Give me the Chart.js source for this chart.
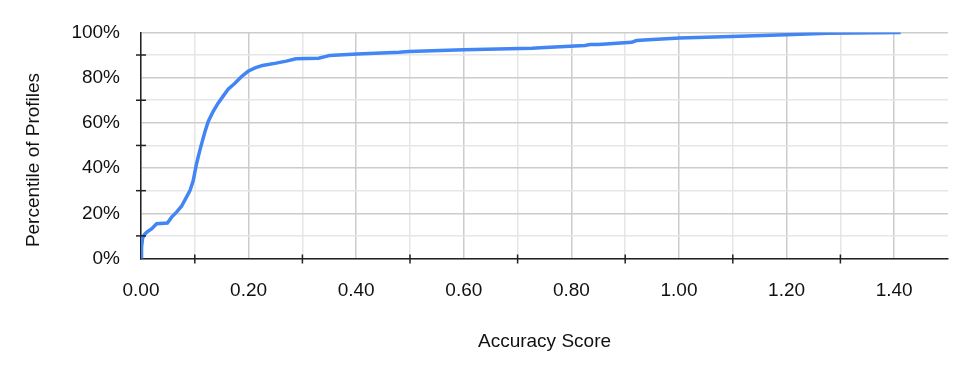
<!DOCTYPE html>
<html>
<head>
<meta charset="utf-8">
<script src="https://cdn.jsdelivr.net/npm/chart.js@4.4.1/dist/chart.umd.min.js"></script>
<style>
  body { margin: 0; background: #fff; }
  #wrap { width: 969px; height: 372px; position: relative; }
</style>
</head>
<body>
<div id="wrap"><canvas id="myChart"></canvas></div>
<script>
// accuracy score (x) vs cumulative percentile of profiles (y)
const scores = [0, 0.001, 0.003, 0.006, 0.011, 0.02, 0.029, 0.049, 0.057, 0.066, 0.075, 0.081,
  0.091, 0.097, 0.103, 0.109, 0.114, 0.119, 0.125, 0.134, 0.143, 0.152, 0.162, 0.174, 0.186,
  0.199, 0.212, 0.226, 0.251, 0.27, 0.288, 0.33, 0.344, 0.35, 0.402, 0.48, 0.498, 0.6, 0.727,
  0.751, 0.825, 0.835, 0.85, 0.912, 0.921, 0.943, 1.001, 1.097, 1.199, 1.276, 1.412];
const percentiles = [0, 5, 9, 10.5, 11.7, 13.2, 15.4, 15.7, 18.3, 20.5, 23, 25.6,
  30, 34.4, 41.7, 47.5, 51.9, 56.2, 60.6, 65, 68.6, 71.6, 74.9, 77.4, 80.3,
  82.8, 84.3, 85.4, 86.4, 87.3, 88.3, 88.6, 89.4, 89.8, 90.5, 91.2, 91.5, 92.3, 93,
  93.3, 94.2, 94.6, 94.7, 95.6, 96.4, 96.8, 97.5, 98.2, 99, 99.6, 100];

const xTickLabels = ['0.00', '0.20', '0.40', '0.60', '0.80', '1.00', '1.20', '1.40'];
const yTickLabels = ['0%', '20%', '40%', '60%', '80%', '100%'];

const FONT = 'Liberation Sans, Arial, sans-serif';
const TEXT = '#111';
const SIZE = 19;

const points = scores.map((s, i) => ({ x: s, y: percentiles[i] }));

// small tick marks crossing the axes + axis titles
const axisExtras = {
  id: 'axisExtras',
  afterDraw(chart) {
    const c = chart.ctx;
    const xs = chart.scales.x, ys = chart.scales.y;
    const a = chart.chartArea;
    c.save();
    c.strokeStyle = '#222';
    c.lineWidth = 1.5;
    for (let v = 10; v < 100; v += 20) {
      const py = ys.getPixelForValue(v);
      c.beginPath(); c.moveTo(a.left - 5, py); c.lineTo(a.left + 5, py); c.stroke();
    }
    for (let k = 1; k < 15; k += 2) {
      const px = xs.getPixelForValue(k / 10);
      c.beginPath(); c.moveTo(px, a.bottom - 4); c.lineTo(px, a.bottom + 5); c.stroke();
    }
    c.fillStyle = TEXT;
    c.font = SIZE + 'px ' + FONT;
    c.textAlign = 'center';
    c.textBaseline = 'middle';
    c.fillText('Accuracy Score', (a.left + a.right) / 2, 342);
    c.translate(34, 160);
    c.rotate(-Math.PI / 2);
    c.fillText('Percentile of Profiles', 0, 0);
    c.restore();
  }
};

const even = v => Math.round(v * 10) % 2 === 0;

new Chart(document.getElementById('myChart'), {
  type: 'scatter',
  data: {
    datasets: [{
      data: points,
      showLine: true,
      borderColor: '#4285f4',
      borderWidth: 3.5,
      pointRadius: 0,
      tension: 0
    }]
  },
  options: {
    responsive: true,
    maintainAspectRatio: false,
    animation: false,
    layout: { padding: { left: 0, right: 19, top: 30, bottom: 0 } },
    plugins: { legend: { display: false }, tooltip: { enabled: false } },
    scales: {
      x: {
        type: 'linear',
        min: 0,
        max: 1.5,
        afterFit: s => { s.height = 113.5; },
        border: { color: '#222', width: 1.5 },
        grid: {
          drawTicks: false,
          color: ctx => {
            const v = ctx.tick ? ctx.tick.value : 0;
            if (v > 1.45) return 'rgba(0,0,0,0)';
            return even(v) ? '#cccccc' : '#e6e6e6';
          },
          lineWidth: 1.5
        },
        ticks: {
          stepSize: 0.1,
          autoSkip: false,
          maxRotation: 0,
          padding: 21,
          color: TEXT,
          font: { family: FONT, size: SIZE },
          callback: v => {
            const k = Math.round(v * 10);
            return k % 2 === 0 ? (xTickLabels[k / 2] || '') : '';
          }
        }
      },
      y: {
        min: 0,
        max: 100,
        afterFit: s => { s.width = 141; },
        border: { color: '#222', width: 1.5 },
        grid: {
          drawTicks: false,
          color: ctx => {
            const v = ctx.tick ? ctx.tick.value : 0;
            return v % 20 === 0 ? '#cccccc' : '#e6e6e6';
          },
          lineWidth: 1.5
        },
        ticks: {
          stepSize: 10,
          autoSkip: false,
          padding: 21,
          color: TEXT,
          font: { family: FONT, size: SIZE },
          callback: v => v % 20 === 0 ? yTickLabels[v / 20] : ''
        }
      }
    }
  },
  plugins: [axisExtras]
});
</script>
</body>
</html>
